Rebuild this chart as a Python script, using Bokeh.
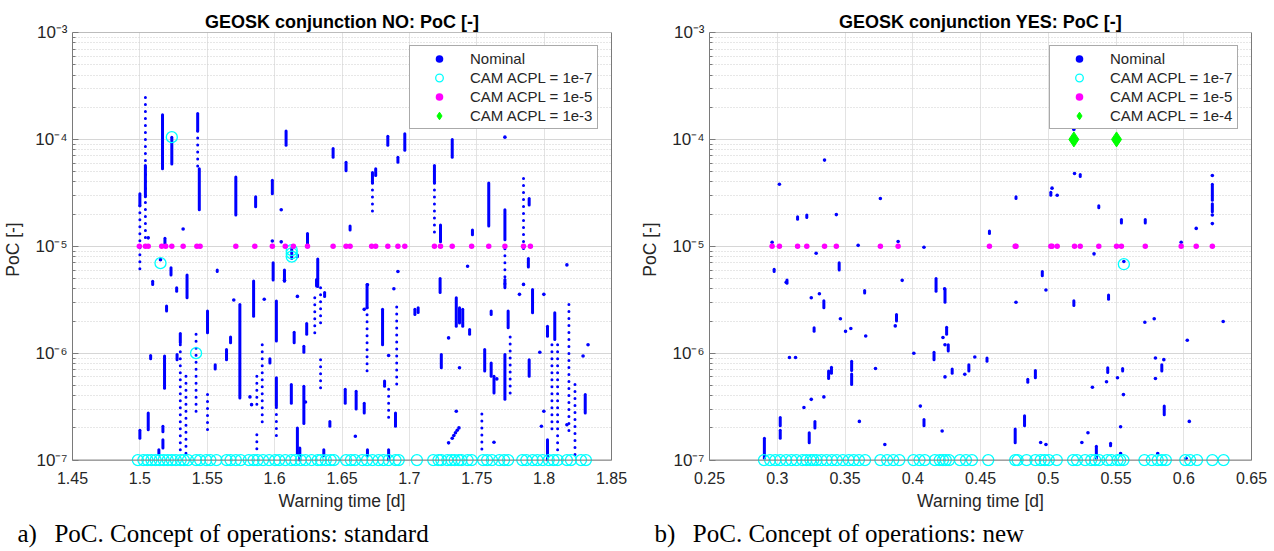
import math
from bokeh.plotting import figure
from bokeh.models import (ColumnDataSource, Range1d, FixedTicker, CustomJSTickFormatter,
                          Legend, LegendItem, Span, LogAxis, Title)
from bokeh.layouts import row
from bokeh.embed import file_html
from bokeh.resources import INLINE

FONT = "Liberation Sans"
SERIF = "Liberation Serif"
TXT = "#262626"
AX = "#7a7a7a"

# ---------------- data: left panel (conjunction NO) ----------------
L_title = "GEOSK conjunction NO: PoC [-]"
L_xticks = [1.45, 1.5, 1.55, 1.6, 1.65, 1.7, 1.75, 1.8, 1.85]
# dense vertical runs of Nominal points: x, top, bottom
L_run_x = [1.5000, 1.5041, 1.5168, 1.5237, 1.5429, 1.5441, 1.5712, 1.5859, 1.5983, 1.6085,
           1.6244, 1.6434, 1.6530, 1.6560, 1.6726, 1.6750, 1.6840, 1.6915, 1.6966, 1.7186,
           1.7231, 1.7318, 1.7468, 1.7589, 1.7709, 1.7889, 1.7883, 1.5186, 1.5231, 1.5350,
           1.5095, 1.5574, 1.5989, 1.6073, 1.6320, 1.6127, 1.6169, 1.7228, 1.5273, 1.5198,
           1.5300, 1.5080, 1.5183, 1.5276, 1.5502, 1.5559, 1.5643, 1.5673, 1.5742, 1.5844,
           1.5965, 1.6013, 1.6013, 1.6124, 1.6145, 1.6169, 1.6187, 1.6217, 1.6217, 1.6238,
           1.6311, 1.6371, 1.6365, 1.6410, 1.6524, 1.6605, 1.6665, 1.6686, 1.6689, 1.6801,
           1.6816, 1.6846, 1.6897, 1.7041, 1.7065, 1.7237, 1.7348, 1.7372, 1.7396, 1.7447,
           1.7559, 1.7607, 1.7607, 1.7628, 1.7709, 1.7709, 1.7733, 1.7889, 1.7914, 1.8025,
           1.8025, 1.8079, 1.8305, 1.5000, 1.5062, 1.5171, 1.5171, 1.5141]
L_run_top = [3.1e-5, 5.7e-5, 1.7e-4, 1.05e-4, 1.75e-4, 5.3e-5, 4.46e-5, 2.9e-5, 4.15e-5, 1.2e-4,
             1.32e-5, 8.2e-5, 6.1e-5, 1.55e-5, 4.9e-5, 5.3e-5, 1.07e-4, 6.8e-5, 1.13e-4, 5.7e-5,
             1.58e-5, 1.0e-4, 1.42e-5, 3.9e-5, 2.2e-5, 2.8e-5, 7.7e-6, 1.19e-5, 6.3e-6, 5.4e-6,
             4.7e-6, 6.0e-6, 7.0e-6, 6.0e-6, 7.6e-6, 9.6e-6, 8.3e-6, 5.0e-6, 4.1e-6, 2.76e-6,
             1.53e-6, 9.5e-7, 9.4e-7, 9.7e-7, 2.48e-6, 7.8e-7, 1.08e-6, 1.42e-6, 2.86e-6, 4.73e-6,
             8.85e-7, 3.07e-6, 5.9e-7, 5.1e-7, 1.57e-6, 2.0e-7, 1.3e-7, 1.16e-6, 4.9e-7, 1.9e-6,
             4.9e-6, 3.7e-6, 1.25e-7, 2.3e-7, 4.6e-7, 4.4e-7, 3.4e-7, 4.4e-6, 1.25e-7, 2.57e-6,
             5.5e-7, 1.25e-7, 2.76e-7, 2.57e-6, 2.66e-6, 9.7e-7, 3.3e-6, 2.66e-6, 2.57e-6, 1.67e-6,
             1.08e-6, 2.48e-6, 8.1e-7, 6.1e-7, 4.9e-6, 9.7e-7, 2.48e-6, 8.7e-7, 3.95e-6, 1.79e-6,
             1.55e-7, 2.39e-6, 4.1e-7, 1.9e-7, 2.76e-7, 2.07e-7, 1.55e-7, 1.25e-7]
L_run_bot = [2.4e-5, 2.9e-5, 5.3e-5, 5.9e-5, 1.2e-4, 2.2e-5, 1.96e-5, 2.34e-5, 3.1e-5, 8.8e-5,
             1.03e-5, 6.8e-5, 5.1e-5, 1.42e-5, 3.9e-5, 4.6e-5, 8.8e-5, 6.1e-5, 7.9e-5, 3.9e-5,
             1.1e-5, 6.8e-5, 1.28e-5, 1.55e-5, 1.15e-5, 2.43e-5, 6.4e-6, 1.03e-5, 5.4e-6, 3.3e-6,
             4.4e-6, 5.8e-6, 4.85e-6, 4.7e-6, 4.2e-6, 7.7e-6, 8.0e-6, 3.7e-6, 3.8e-6, 2.48e-6,
             1.25e-6, 8.85e-7, 4.7e-7, 8.7e-7, 1.55e-6, 7.1e-7, 8.7e-7, 1.25e-6, 3.8e-7, 2.22e-6,
             8.1e-7, 1.3e-6, 3.2e-7, 3.4e-7, 1.25e-6, 1.16e-7, 1.0e-7, 1.02e-6, 2.2e-7, 1.5e-6,
             4.25e-6, 3.4e-6, 1.1e-7, 2.07e-7, 3.4e-7, 3.0e-7, 2.76e-7, 2.66e-6, 1.1e-7, 1.2e-6,
             4.9e-7, 1.0e-7, 2.07e-7, 2.3e-6, 2.4e-6, 7.3e-7, 1.79e-6, 1.92e-6, 1.79e-6, 1.5e-6,
             6.8e-7, 2.3e-6, 6.1e-7, 4.25e-7, 4.1e-6, 3.7e-7, 1.73e-6, 6.1e-7, 2.39e-6, 1.44e-6,
             1.0e-7, 1.34e-6, 2.76e-7, 1.6e-7, 1.92e-7, 1.84e-7, 1.3e-7, 1.12e-7]
# sparse (dotted) vertical runs of Nominal points: x, top, bottom
L_sparse_x = [1.5041, 1.5000, 1.5429, 1.7186, 1.7709, 1.7847, 1.6726, 1.5300, 1.5417, 1.5342,
              1.5502, 1.5868, 1.5908, 1.6013, 1.6298, 1.6341, 1.6341, 1.6686, 1.6846, 1.6906,
              1.7538, 1.7748, 1.8058, 1.8100, 1.8184, 1.8229, 1.5868]
L_sparse_top = [2.47e-4, 2.4e-5, 1.2e-4, 3.9e-5, 9.5e-6, 4.3e-5, 3.9e-5, 1.2e-6, 1.5e-6, 6.1e-7,
                4.1e-7, 6.1e-7, 1.2e-6, 3.1e-7, 3.3e-6, 4.1e-6, 8.7e-7, 2.66e-6, 4.6e-7, 2.7e-6,
                2.7e-7, 1.42e-6, 1.2e-6, 1.2e-6, 2.86e-6, 5.1e-7, 1.73e-7]
L_sparse_bot = [1.15e-5, 5.6e-6, 5.3e-5, 1.23e-5, 4.4e-6, 8.3e-6, 1.89e-5, 1.12e-7, 2.66e-7, 1.1e-7,
                1.9e-7, 3.3e-7, 2.2e-7, 1.5e-7, 1.44e-6, 1.9e-6, 4.1e-7, 6.8e-7, 2.4e-7, 4.6e-7,
                1.16e-7, 3.7e-7, 1.9e-7, 1.16e-7, 1.73e-7, 1.08e-7, 1.16e-7]
# isolated Nominal points
L_nom_x = [1.5321, 1.6049, 1.6049, 1.5983, 1.7432, 1.8169, 1.6689, 1.6885, 1.6915, 1.7709,
           1.5697, 1.5923, 1.5829, 1.5817, 1.6599, 1.6229, 1.7291, 1.7291, 1.7348, 1.7372,
           1.7628, 1.7649, 1.7817, 1.7847, 1.7968, 1.7998, 1.7998, 1.8289, 1.8326, 1.6846,
           1.6169, 1.6665, 1.5153, 1.5062, 1.7980, 1.8169, 1.7318, 1.7330, 1.7342, 1.7355,
           1.7368, 1.6073]
L_nom_y = [1.45e-5, 2.2e-5, 1.1e-5, 1.12e-5, 6.5e-6, 6.7e-6, 4.36e-6, 4.0e-6, 5.8e-6, 1.05e-4,
           3.14e-6, 3.2e-6, 3.3e-7, 3.9e-7, 1.67e-7, 3.5e-7, 1.39e-6, 1.45e-7, 2.86e-7, 7.3e-7,
           1.47e-7, 5.75e-7, 3.55e-6, 4.4e-6, 1.02e-6, 3.55e-6, 2.86e-7, 9.4e-7, 1.2e-6, 9.5e-7,
           3.4e-6, 2.57e-6, 7.5e-6, 1.2e-5, 2.07e-7, 2.14e-7, 1.6e-7, 1.7e-7, 1.8e-7, 1.9e-7,
           2.0e-7, 4.8e-6]
# CAM ACPL = 1e-7 (open cyan circles)
L_c7_x = [1.4985, 1.5026, 1.5056, 1.5086, 1.5117, 1.5147, 1.5177, 1.5207, 1.5237, 1.5267,
          1.5303, 1.5327, 1.5357, 1.5417, 1.5447, 1.5492, 1.5523, 1.5568, 1.5643, 1.5673,
          1.5712, 1.5748, 1.5808, 1.5844, 1.5874, 1.5914, 1.5959, 1.6004, 1.6034, 1.6079,
          1.6124, 1.6155, 1.6194, 1.6229, 1.6274, 1.6320, 1.6344, 1.6380, 1.6416, 1.6440,
          1.6530, 1.6566, 1.6596, 1.6650, 1.6686, 1.6726, 1.6771, 1.6807, 1.6846, 1.6897,
          1.6921, 1.7056, 1.7177, 1.7216, 1.7237, 1.7282, 1.7312, 1.7336, 1.7366, 1.7387,
          1.7432, 1.7462, 1.7547, 1.7577, 1.7613, 1.7667, 1.7703, 1.7733, 1.7838, 1.7868,
          1.7914, 1.7950, 1.7989, 1.8034, 1.8070, 1.8100, 1.8169, 1.8199, 1.8274, 1.8310,
          1.5153, 1.5237, 1.5417, 1.6127, 1.6127, 1.6127]
L_c7_y = [1e-7] * 80 + [6.95e-6, 1.05e-4, 1.0e-6, 8.0e-6, 8.6e-6, 9.2e-6]
# CAM ACPL = 1e-5 (magenta dots)
L_c5_x = [1.4996, 1.5041, 1.5062, 1.5162, 1.5192, 1.5237, 1.5321, 1.5423, 1.5447, 1.5712,
          1.5853, 1.5983, 1.6079, 1.6139, 1.6244, 1.6434, 1.6530, 1.6560, 1.6720, 1.6750,
          1.6840, 1.6915, 1.6966, 1.7186, 1.7231, 1.7318, 1.7462, 1.7589, 1.7709, 1.7847,
          1.7898]
L_c5_y = [1e-5] * len(L_c5_x)
# CAM ACPL = 1e-3 (green diamonds): no such case here (NaN keeps the legend entry)
L_c3_x = [math.nan]
L_c3_y = [math.nan]
L_c3_label = "CAM ACPL = 1e-3"

# ---------------- data: right panel (conjunction YES) ----------------
R_title = "GEOSK conjunction YES: PoC [-]"
R_xticks = [0.25, 0.3, 0.35, 0.4, 0.45, 0.5, 0.55, 0.6, 0.65]
R_run_x = [0.2977, 0.3072, 0.3150, 0.3218, 0.3457, 0.4172, 0.4566, 0.4762, 0.4956, 0.5019,
           0.5236, 0.5373, 0.5540, 0.5716, 0.6211, 0.6211, 0.3344, 0.3645, 0.3880, 0.4238,
           0.4250, 0.4262, 0.4157, 0.4548, 0.3400, 0.3379, 0.3549, 0.3549, 0.4291, 0.4414,
           0.4849, 0.4905, 0.5439, 0.5549, 0.5838, 0.5856, 0.4825, 0.4756, 0.4083, 0.3278,
           0.3236, 0.3022, 0.3022, 0.2905, 0.5355, 0.5460, 0.5189, 0.5445, 0.3272]
R_run_top = [6.1e-6, 4.85e-6, 1.89e-5, 1.96e-5, 7.0e-6, 5.0e-6, 1.39e-5, 2.9e-5, 5.8e-6, 3.2e-5,
             4.7e-5, 2.4e-5, 1.78e-5, 1.78e-5, 3.8e-5, 2.5e-5, 3.1e-6, 3.85e-6, 2.3e-6, 3.95e-6,
             1.75e-6, 1.2e-6, 1.02e-6, 9.0e-7, 7.4e-7, 6.8e-7, 8.4e-7, 6.4e-7, 7.1e-7, 7.8e-7,
             5.7e-7, 6.9e-7, 7.3e-7, 7.2e-7, 7.8e-7, 3.2e-7, 2.6e-7, 1.95e-7, 2.4e-7, 2.3e-7,
             1.8e-7, 2.5e-7, 1.9e-7, 1.6e-7, 1.35e-7, 1.44e-7, 3.1e-6, 3.5e-6, 1.73e-6]
R_run_bot = [5.8e-6, 4.5e-6, 1.79e-5, 1.86e-5, 6.0e-6, 3.8e-6, 1.32e-5, 2.8e-5, 5.3e-6, 3.0e-5,
             4.5e-5, 2.3e-5, 1.65e-5, 1.65e-5, 2.7e-5, 2.1e-5, 2.66e-6, 3.65e-6, 2.0e-6, 3.0e-6,
             1.5e-6, 1.05e-6, 8.7e-7, 8.4e-7, 6.5e-7, 5.8e-7, 6.9e-7, 5.1e-7, 6.5e-7, 6.8e-7,
             5.35e-7, 5.9e-7, 6.6e-7, 6.8e-7, 6.8e-7, 2.65e-7, 2.1e-7, 1.45e-7, 2.1e-7, 2.0e-7,
             1.45e-7, 2.1e-7, 1.6e-7, 1.04e-7, 1.04e-7, 1.36e-7, 2.8e-6, 3.2e-6, 1.6e-6]
R_sparse_x = []
R_sparse_top = []
R_sparse_bot = []
R_nom_x = [0.2962, 0.3016, 0.3287, 0.3349, 0.3436, 0.3597, 0.3761, 0.3892, 0.3922, 0.4083,
           0.4235, 0.5028, 0.5066, 0.5194, 0.5189, 0.5338, 0.5558, 0.5981, 0.6092, 0.3251,
           0.3311, 0.3466, 0.3504, 0.3543, 0.3653, 0.3871, 0.4223, 0.4238, 0.4008, 0.4458,
           0.3090, 0.3135, 0.3725, 0.4238, 0.4384, 0.4762, 0.4983, 0.5713, 0.5782, 0.6291,
           0.6026, 0.5430, 0.5326, 0.5511, 0.5555, 0.5791, 0.5791, 0.5853, 0.6041, 0.5534,
           0.5293, 0.5248, 0.5534, 0.5808, 0.4944, 0.4983, 0.4217, 0.4056, 0.3794, 0.3606,
           0.3197, 0.3251, 0.3344, 0.6017, 0.6211, 0.6211, 0.6211, 0.3066]
R_nom_y = [1.09e-5, 3.8e-5, 8.6e-6, 6.4e-5, 1.98e-5, 1.02e-5, 2.8e-5, 1.11e-5, 4.8e-6, 9.8e-6,
           4.0e-6, 3.5e-5, 3.0e-5, 4.8e-5, 1.24e-4, 8.5e-6, 7.2e-6, 1.09e-5, 1.47e-5, 3.3e-6,
           3.6e-6, 2.1e-6, 1.6e-6, 1.7e-6, 1.45e-6, 1.8e-6, 1.4e-6, 1.2e-6, 1.0e-6, 9.2e-7,
           9.1e-7, 9.1e-7, 7.2e-7, 6.0e-7, 6.35e-7, 3.0e-6, 3.9e-6, 1.95e-6, 2.1e-6, 1.98e-6,
           1.32e-6, 5.4e-7, 4.8e-7, 5.9e-7, 4.1e-7, 9.0e-7, 5.8e-7, 8.7e-7, 2.3e-7, 2.05e-7,
           1.8e-7, 1.46e-7, 1.15e-7, 1.15e-7, 1.46e-7, 1.4e-7, 1.87e-7, 3.2e-7, 1.4e-7, 2.3e-7,
           3.1e-7, 3.7e-7, 3.9e-7, 1.04e-7, 4.6e-5, 1.96e-5, 1.63e-5, 4.6e-6]
R_c7_x = [0.2902, 0.2947, 0.2986, 0.3022, 0.3066, 0.3105, 0.3141, 0.3186, 0.3215, 0.3245,
          0.3266, 0.3290, 0.3326, 0.3364, 0.3403, 0.3439, 0.3484, 0.3528, 0.3564, 0.3603,
          0.3648, 0.3761, 0.3811, 0.3856, 0.3901, 0.4005, 0.4050, 0.4089, 0.4163, 0.4199,
          0.4223, 0.4244, 0.4268, 0.4348, 0.4393, 0.4437, 0.4557, 0.4756, 0.4774, 0.4840,
          0.4905, 0.4944, 0.4974, 0.5004, 0.5063, 0.5183, 0.5212, 0.5272, 0.5317, 0.5346,
          0.5376, 0.5436, 0.5466, 0.5511, 0.5531, 0.5555, 0.5710, 0.5764, 0.5808, 0.5838,
          0.5868, 0.6011, 0.6047, 0.6098, 0.6211, 0.6294, 0.5558]
R_c7_y = [1e-7] * 66 + [6.8e-6]
R_c5_x = [0.2962, 0.3016, 0.3150, 0.3218, 0.3349, 0.3436, 0.3761, 0.3892, 0.4566, 0.4756,
          0.4762, 0.5019, 0.5028, 0.5066, 0.5194, 0.5236, 0.5373, 0.5504, 0.5540, 0.5716,
          0.5981, 0.6092, 0.6211]
R_c5_y = [1e-5] * len(R_c5_x)
R_c3_x = [0.5189, 0.5504]
R_c3_y = [1e-4, 1e-4]
R_c3_label = "CAM ACPL = 1e-4"

Y_TICKS = [1e-7, 1e-6, 1e-5, 1e-4, 1e-3]
Y_MINOR = [m * d for d in [1e-7, 1e-6, 1e-5, 1e-4] for m in range(2, 10)]

SUP_JS = """
const sup = {'-':'\u207b','0':'\u2070','1':'\u00b9','2':'\u00b2','3':'\u00b3','4':'\u2074',
             '5':'\u2075','6':'\u2076','7':'\u2077','8':'\u2078','9':'\u2079'};
const e = Math.round(Math.log10(tick));
return '10' + String(e).split('').map(c => sup[c]).join('');
"""
X_JS = "return String(parseFloat(tick.toFixed(2)));"


def panel(title, xr, xticks, run, sparse, nom, c7, c5, c3, c3_label, caption,
          width, right_border):
    p = figure(width=width, height=551, x_range=Range1d(*xr),
               y_range=Range1d(10 ** -7.06, 1e-3), y_axis_type="log",
               output_backend="svg", toolbar_location=None,
               min_border_left=67, min_border_right=right_border,
               min_border_top=32, min_border_bottom=85, outline_line_color=None)
    p.background_fill_color = "white"
    p.border_fill_color = "white"

    p.title.text = title
    p.title.align = "center"
    p.title.text_font = FONT
    p.title.text_font_size = "18px"
    p.title.text_font_style = "bold"
    p.title.text_color = "#000000"
    p.title.standoff = 2

    ya = p.yaxis[0]
    ya.ticker = FixedTicker(ticks=Y_TICKS, minor_ticks=Y_MINOR)
    ya.formatter = CustomJSTickFormatter(code=SUP_JS)
    ya.bounds = (1e-7, 1e-3)
    ya.axis_line_color = AX
    ya.major_tick_line_color = AX
    ya.minor_tick_line_color = AX
    ya.major_tick_in = 6
    ya.major_tick_out = 0
    ya.minor_tick_in = 3
    ya.minor_tick_out = 0
    ya.major_label_text_font = FONT
    ya.major_label_text_font_size = "17px"
    ya.major_label_text_color = TXT
    ya.major_label_standoff = 5
    ya.axis_label = "PoC [-]"
    ya.axis_label_text_font = FONT
    ya.axis_label_text_font_size = "17.5px"
    ya.axis_label_text_font_style = "normal"
    ya.axis_label_text_color = TXT
    ya.axis_label_standoff = 9

    xa = p.xaxis[0]
    xa.ticker = FixedTicker(ticks=xticks, minor_ticks=[])
    xa.formatter = CustomJSTickFormatter(code=X_JS)
    xa.axis_line_color = None
    xa.major_tick_in = 0
    xa.major_tick_out = 0
    xa.minor_tick_in = 0
    xa.minor_tick_out = 0
    xa.major_label_text_font = FONT
    xa.major_label_text_font_size = "16px"
    xa.major_label_text_color = TXT
    xa.major_label_standoff = 5
    xa.axis_label = "Warning time [d]"
    xa.axis_label_text_font = FONT
    xa.axis_label_text_font_size = "17.5px"
    xa.axis_label_text_font_style = "normal"
    xa.axis_label_text_color = TXT
    xa.axis_label_standoff = 4

    ra = LogAxis(bounds=(1e-7, 1e-3), ticker=FixedTicker(ticks=[], minor_ticks=[]),
                 axis_line_color=AX, major_tick_in=0, major_tick_out=0,
                 minor_tick_in=0, minor_tick_out=0)
    p.add_layout(ra, "right")

    p.xgrid.grid_line_color = "#e3e3e3"
    p.ygrid.grid_line_color = "#d6d6d6"
    p.ygrid.minor_grid_line_color = "#cfcfcf"
    p.ygrid.minor_grid_line_dash = "1 2"

    p.add_layout(Span(location=1e-7, dimension="width", line_color=AX, line_width=1))
    p.add_layout(Span(location=1e-3, dimension="width", line_color=AX, line_width=1))

    blue = "#0000ff"
    rx, rtop, rbot = run
    p.segment(x0="x", y0="top", x1="x", y1="bot",
              source=ColumnDataSource(dict(x=rx, top=rtop, bot=rbot)),
              line_color=blue, line_width=3.0, line_cap="round")
    sx, stop, sbot = sparse
    p.segment(x0="x", y0="top", x1="x", y1="bot",
              source=ColumnDataSource(dict(x=sx, top=stop, bot=sbot)),
              line_color=blue, line_width=3.0, line_cap="round", line_dash="0 7")
    r_nom = p.scatter(x=nom[0], y=nom[1], marker="circle", size=3.6,
                      fill_color=blue, line_color=None)
    r_c7 = p.scatter(x=c7[0], y=c7[1], marker="circle", size=11,
                     fill_color=None, line_color="#00ffff", line_width=1.3)
    r_c5 = p.scatter(x=c5[0], y=c5[1], marker="circle", size=5.5,
                     fill_color="#ff00ff", line_color=None)
    r_c3 = p.scatter(x=c3[0], y=c3[1], marker="diamond", size=15,
                     fill_color="#00ff00", line_color="#00ff00")

    legend = Legend(items=[LegendItem(label="Nominal", renderers=[r_nom]),
                           LegendItem(label="CAM ACPL = 1e-7", renderers=[r_c7]),
                           LegendItem(label="CAM ACPL = 1e-5", renderers=[r_c5]),
                           LegendItem(label=c3_label, renderers=[r_c3])],
                    location="top_right", margin=13, padding=3, spacing=0,
                    glyph_height=19, glyph_width=52, label_height=19, label_width=124,
                    label_standoff=5, label_text_font=FONT, label_text_font_size="15px",
                    label_text_color=TXT, border_line_color="#555555", border_line_width=1,
                    background_fill_color="white", background_fill_alpha=1.0)
    p.add_layout(legend)

    cap = Title(text=caption, align="left", offset=-55, standoff=9,
                text_font=SERIF, text_font_size="25px", text_font_style="normal",
                text_color="#000000")
    p.add_layout(cap, "below")
    return p


p1 = panel(L_title, (1.45, 1.85), L_xticks,
           (L_run_x, L_run_top, L_run_bot), (L_sparse_x, L_sparse_top, L_sparse_bot),
           (L_nom_x, L_nom_y), (L_c7_x, L_c7_y), (L_c5_x, L_c5_y), (L_c3_x, L_c3_y),
           L_c3_label, "a)\u2002\u2009PoC. Concept of operations: standard", 637, 26)
p2 = panel(R_title, (0.25, 0.65), R_xticks,
           (R_run_x, R_run_top, R_run_bot), (R_sparse_x, R_sparse_top, R_sparse_bot),
           (R_nom_x, R_nom_y), (R_c7_x, R_c7_y), (R_c5_x, R_c5_y), (R_c3_x, R_c3_y),
           R_c3_label, "b)\u2002\u2009PoC. Concept of operations: new", 637, 23)

layout = row(p1, p2)
open("out.html", "w").write(file_html(layout, INLINE))
